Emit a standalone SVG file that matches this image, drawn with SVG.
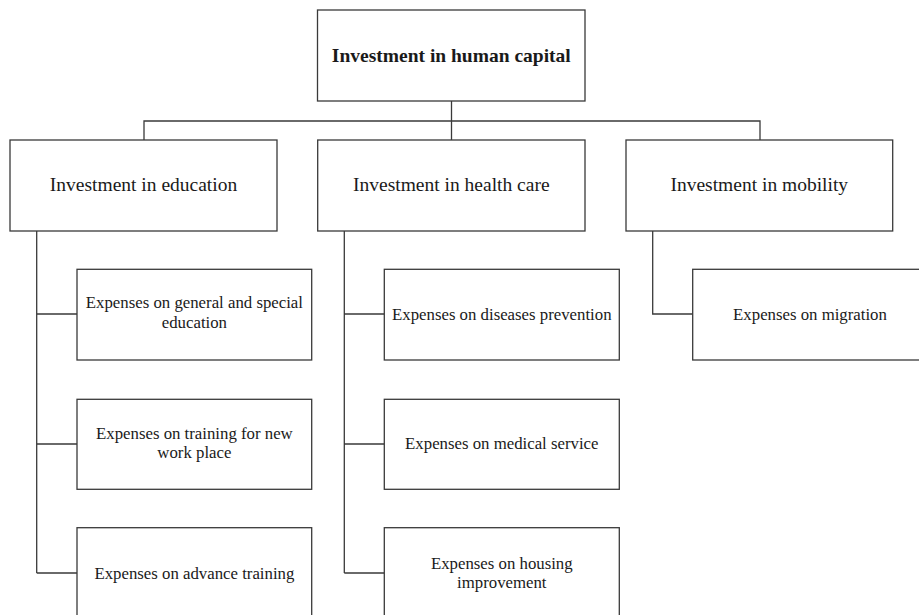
<svg xmlns="http://www.w3.org/2000/svg" width="919" height="615" viewBox="0 0 919 615">
<style>
  .box { fill: #ffffff; stroke: #3a3a3a; stroke-width: 1.3; }
  .conn { fill: none; stroke: #3a3a3a; stroke-width: 1.3; }
  .t { font-family: 'Liberation Serif', 'DejaVu Serif', 'Times New Roman', Times, serif; fill: #1a1a1a; text-anchor: middle; }
  .t0 { font-size: 19.5px; font-weight: bold; }
  .t1 { font-size: 19.5px; }
  .t2 { font-size: 16.8px; }
</style>
<rect width="919" height="615" fill="#ffffff"/>
<g id="connectors">
  <path class="conn" d="M451.5 101 V140 M144 140 V121 H760 V140"/>
  <path class="conn" d="M36.7 231 V573 M36.7 314 H77 M36.7 444 H77 M36.7 573 H77"/>
  <path class="conn" d="M344.3 231 V573 M344.3 314 H384.3 M344.3 444 H384.3 M344.3 573 H384.3"/>
  <path class="conn" d="M652.7 231 V314 H692.7"/>
</g>
<g id="root">
  <rect class="box" x="317.5" y="10" width="267.5" height="91"/>
  <text class="t t0" x="451.3" y="61.5">Investment in human capital</text>
</g>
<g id="education">
  <rect class="box" x="10" y="140" width="267" height="91"/>
  <text class="t t1" x="143.5" y="191">Investment in education</text>
</g>
<g id="health">
  <rect class="box" x="317.7" y="140" width="267.3" height="91"/>
  <text class="t t1" x="451.3" y="191">Investment in health care</text>
</g>
<g id="mobility">
  <rect class="box" x="626" y="140" width="266.7" height="91"/>
  <text class="t t1" x="759.3" y="191">Investment in mobility</text>
</g>
<g id="edu-general">
  <rect class="box" x="77" y="269.3" width="234.7" height="90.7"/>
  <text class="t t2" x="194.4" y="308.3">Expenses on general and special</text>
  <text class="t t2" x="194.4" y="327.8">education</text>
</g>
<g id="edu-training">
  <rect class="box" x="77" y="399.3" width="234.7" height="90"/>
  <text class="t t2" x="194.4" y="438.8">Expenses on training for new</text>
  <text class="t t2" x="194.4" y="458.3">work place</text>
</g>
<g id="edu-advance">
  <rect class="box" x="77" y="527.7" width="234.7" height="91"/>
  <text class="t t2" x="194.4" y="579">Expenses on advance training</text>
</g>
<g id="health-prevention">
  <rect class="box" x="384.3" y="269.3" width="235" height="90.7"/>
  <text class="t t2" x="501.8" y="320">Expenses on diseases prevention</text>
</g>
<g id="health-medical">
  <rect class="box" x="384.3" y="399.3" width="235" height="90"/>
  <text class="t t2" x="501.8" y="449">Expenses on medical service</text>
</g>
<g id="health-housing">
  <rect class="box" x="384.3" y="527.7" width="235" height="91"/>
  <text class="t t2" x="501.8" y="568.8">Expenses on housing</text>
  <text class="t t2" x="501.8" y="588.3">improvement</text>
</g>
<g id="mobility-migration">
  <rect class="box" x="692.7" y="269.3" width="235" height="90.7"/>
  <text class="t t2" x="810" y="320">Expenses on migration</text>
</g>
</svg>
